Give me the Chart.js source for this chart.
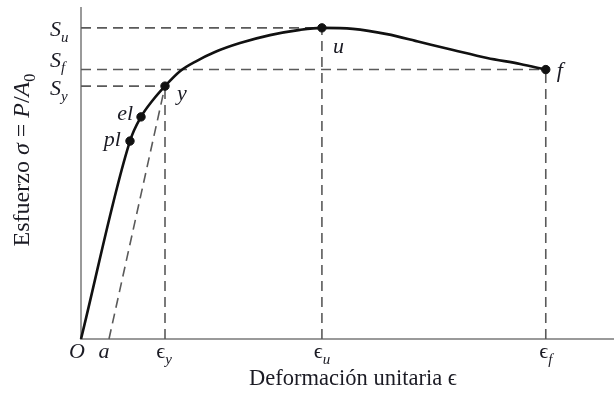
<!DOCTYPE html>
<html>
<head>
<meta charset="utf-8">
<script src="https://cdn.jsdelivr.net/npm/chart.js@4/dist/chart.umd.min.js"></script>
<style>
	html, body { margin: 0; padding: 0; background: #fff; overflow: hidden; }
	#wrap { position: relative; width: 614px; height: 406px; }
</style>
</head>
<body>
<div id="wrap"><canvas id="chart"></canvas></div>
<script>
// stress-strain curve (arbitrary units 0..100)
const strain = [0, 9.19, 11.26, 13.5, 15.76, 18.57, 21.58, 25.14, 29.83, 35.46, 41.09, 45.2, 51.0, 57.4, 63.6, 69.8, 76.2, 82.4, 87.2];
const stress = [0, 59.8, 67.1, 72.2, 76.4, 80.9, 83.9, 86.7, 89.4, 91.8, 93.4, 94.0, 93.7, 92.1, 89.7, 87.3, 84.9, 83.1, 81.4];

// marked points
const markNames = ['pl', 'el', 'y', 'u', 'f'];
const markStrain = [9.19, 11.26, 15.76, 45.2, 87.2];
const markStress = [59.8, 67.1, 76.4, 94.0, 81.4];

// axis marks
const epsA = 5.25;
const epsY = 15.76;
const epsU = 45.2;
const epsF = 87.2;
const sY = 76.4;
const sF = 81.4;
const sU = 94.0;

const SERIF = "'Liberation Serif', 'DejaVu Serif', serif";
const DASH_COLOR = '#5a5a5a';
const FS = 22;

function dashed(points) {
	return {
		type: 'line',
		data: points.map(([x, y]) => ({x, y})),
		borderColor: DASH_COLOR,
		borderWidth: 1.6,
		borderDash: [10, 6],
		pointRadius: 0,
		tension: 0,
		clip: false,
		order: 2,
	};
}

// text runs: [text, italic, sub]
function runWidth(ctx, pieces, size) {
	let w = 0;
	for (const [t, it, sub] of pieces) {
		ctx.font = (it ? 'italic ' : '') + (sub ? size * 0.68 : size) + 'px ' + SERIF;
		w += ctx.measureText(t).width;
	}
	return w;
}
function drawRun(ctx, pieces, x, y, size) {
	let cx = x;
	for (const [t, it, sub] of pieces) {
		ctx.font = (it ? 'italic ' : '') + (sub ? size * 0.68 : size) + 'px ' + SERIF;
		ctx.fillText(t, cx, sub ? y + size * 0.26 : y);
		cx += ctx.measureText(t).width;
	}
}

const labelsPlugin = {
	id: 'labels',
	afterDraw(chart) {
		const {ctx, scales: {x, y}} = chart;
		ctx.save();
		ctx.fillStyle = '#1b1b24';
		ctx.textBaseline = 'alphabetic';
		ctx.textAlign = 'left';

		// x tick labels
		const xBase = y.getPixelForValue(0) + 19;
		const xTicks = [
			[0, [['O', true]], -4],
			[epsA, [['a', true]], -5],
			[epsY, [['ϵ', false], ['y', true, true]], -1],
			[epsU, [['ϵ', false], ['u', true, true]], 0],
			[epsF, [['ϵ', false], ['f', true, true]], 0],
		];
		for (const [v, pieces, dx] of xTicks) {
			const w = runWidth(ctx, pieces, FS);
			drawRun(ctx, pieces, x.getPixelForValue(v) - w / 2 + dx, xBase, FS);
		}

		// y tick labels
		const yTicks = [
			[sU, [['S', true], ['u', true, true]], 8],
			[sF, [['S', true], ['f', true, true]], -3],
			[sY, [['S', true], ['y', true, true]], 9],
		];
		for (const [v, pieces, dy] of yTicks) {
			drawRun(ctx, pieces, 50, y.getPixelForValue(v) + dy, FS);
		}

		// point labels (right: dx is the gap left of the point)
		const offs = {
			pl: [-9, 5, true],
			el: [-8, 3, true],
			y: [12, 14],
			u: [11, 25],
			f: [11, 7],
		};
		markNames.forEach((n, i) => {
			const px = x.getPixelForValue(markStrain[i]);
			const py = y.getPixelForValue(markStress[i]);
			const [dx, dy, right] = offs[n];
			const piece = [[n, true]];
			const lx = right ? px + dx - runWidth(ctx, piece, FS) : px + dx;
			drawRun(ctx, piece, lx, py + dy, FS);
		});

		// x title
		const xt = [['Deformación unitaria ', false], ['ϵ', false]];
		const xw = runWidth(ctx, xt, 22.5);
		drawRun(ctx, xt, 353 - xw / 2, 385, 22.5);

		// y title (rotated)
		const yt = [['Esfuerzo ', false], ['σ', true], [' = ', false], ['P', true], ['/', false], ['A', true], ['0', false, true]];
		const yw = runWidth(ctx, yt, 24);
		ctx.translate(29, 160);
		ctx.rotate(-Math.PI / 2);
		drawRun(ctx, yt, -yw / 2, 0, 24);
		ctx.restore();
	},
};

new Chart(document.getElementById('chart'), {
	type: 'line',
	data: {
		datasets: [
			{
				data: strain.map((v, i) => ({x: v, y: stress[i]})),
				borderColor: '#111',
				borderWidth: 2.6,
				pointRadius: 0,
				cubicInterpolationMode: 'monotone',
				clip: false,
				order: 0,
			},
			{
				type: 'scatter',
				data: markStrain.map((v, i) => ({x: v, y: markStress[i]})),
				backgroundColor: '#111',
				borderColor: '#111',
				pointRadius: 4.2,
				clip: false,
				order: -1,
			},
			dashed([[0, sU], [epsU, sU]]),
			dashed([[epsU, 0], [epsU, sU]]),
			dashed([[0, sF], [epsF, sF]]),
			dashed([[epsF, 0], [epsF, sF]]),
			dashed([[0, sY], [epsY, sY]]),
			dashed([[epsY, 0], [epsY, sY]]),
			dashed([[epsA, 0], [epsY, sY]]),
		],
	},
	options: {
		responsive: true,
		maintainAspectRatio: false,
		animation: false,
		layout: {autoPadding: false, padding: {left: 81, right: 0, top: 8, bottom: 67}},
		plugins: {legend: {display: false}, tooltip: {enabled: false}},
		scales: {
			x: {
				type: 'linear',
				min: 0,
				max: 100,
				grid: {display: false, drawTicks: false},
				ticks: {display: false},
				border: {color: '#9a9a9a', width: 2},
			},
			y: {
				type: 'linear',
				min: 0,
				max: 100,
				grid: {display: false, drawTicks: false},
				ticks: {display: false},
				border: {color: '#9a9a9a', width: 2},
			},
		},
	},
	plugins: [labelsPlugin],
});
</script>
</body>
</html>
